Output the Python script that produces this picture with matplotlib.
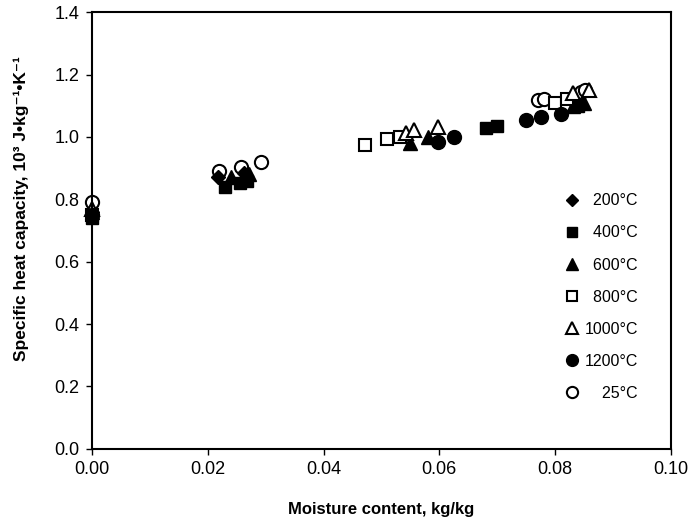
import matplotlib
matplotlib.use('Agg')
import matplotlib.pyplot as plt

plt.rcParams['font.family'] = ['Liberation Sans', 'DejaVu Sans']

# moisture content (kg/kg) and specific heat capacity (10^3 J/kg/K) per drying temperature
x_200 = [0.0, 0.0218, 0.0262]
y_200 = [0.76, 0.872, 0.885]

x_400 = [0.0, 0.0230, 0.0256, 0.0268, 0.0680, 0.0700, 0.0840]
y_400 = [0.74, 0.840, 0.853, 0.858, 1.028, 1.034, 1.100]

x_600 = [0.0, 0.0240, 0.0272, 0.0550, 0.0580, 0.0830, 0.0850]
y_600 = [0.76, 0.870, 0.880, 0.980, 1.000, 1.100, 1.110]

x_800 = [0.0, 0.0472, 0.0510, 0.0532, 0.0800, 0.0820]
y_800 = [0.75, 0.974, 0.994, 1.000, 1.110, 1.120]

x_1000 = [0.0, 0.0542, 0.0557, 0.0597, 0.0830, 0.0858]
y_1000 = [0.77, 1.012, 1.022, 1.032, 1.140, 1.150]

x_1200 = [0.0, 0.0597, 0.0625, 0.0750, 0.0775, 0.0810]
y_1200 = [0.75, 0.984, 1.000, 1.054, 1.064, 1.074]

x_25 = [0.0, 0.0220, 0.0258, 0.0292, 0.0770, 0.0780, 0.0845, 0.0852]
y_25 = [0.79, 0.892, 0.905, 0.920, 1.118, 1.120, 1.145, 1.150]

fig = plt.figure(figsize=(6.91, 5.28), dpi=100)
ax = fig.add_axes([0.133, 0.150, 0.838, 0.827])

k = dict(color='black', linestyle='none', markeredgecolor='black', clip_on=False)
open_k = dict(k, markerfacecolor='white', markeredgewidth=1.5)

h25, = ax.plot(x_25, y_25, 'o', markersize=9.5, **open_k)
h200, = ax.plot(x_200, y_200, 'D', markersize=7, **k)
h400, = ax.plot(x_400, y_400, 's', markersize=9, **k)
h600, = ax.plot(x_600, y_600, '^', markersize=10, **k)
h800, = ax.plot(x_800, y_800, 's', markersize=9, **open_k)
h1000, = ax.plot(x_1000, y_1000, '^', markersize=10, **open_k)
h1200, = ax.plot(x_1200, y_1200, 'o', markersize=10, **k)

labels = ['  200°C', '  400°C', '  600°C', '  800°C', '1000°C', '1200°C', '    25°C']
ax.legend([h200, h400, h600, h800, h1000, h1200, h25], labels,
          loc='upper left', bbox_to_anchor=(0.79, 0.618), frameon=False,
          fontsize=11.5, labelspacing=1.07, handlelength=1.0, handletextpad=0.3,
          markerscale=0.85)

ax.set_xlim(0, 0.10)
ax.set_ylim(0, 1.4)
ax.set_xticks([0.0, 0.02, 0.04, 0.06, 0.08, 0.10])
ax.set_xticklabels(['0.00', '0.02', '0.04', '0.06', '0.08', '0.10'])
ax.set_yticks([0.0, 0.2, 0.4, 0.6, 0.8, 1.0, 1.2, 1.4])
ax.set_yticklabels(['0.0', '0.2', '0.4', '0.6', '0.8', '1.0', '1.2', '1.4'])
ax.tick_params(direction='out', length=4, width=1, labelsize=13, pad=5)
for s in ax.spines.values():
    s.set_linewidth(1.5)

ax.set_xlabel('Moisture content, kg/kg', fontsize=12, fontweight='bold', labelpad=17)
ax.set_ylabel('Specific heat capacity, 10³ J•kg⁻¹•K⁻¹', fontsize=12.5,
              fontweight='bold', labelpad=10)
ax.yaxis.set_label_coords(-0.108, 0.55)

fig.savefig('out.png', dpi=100)
